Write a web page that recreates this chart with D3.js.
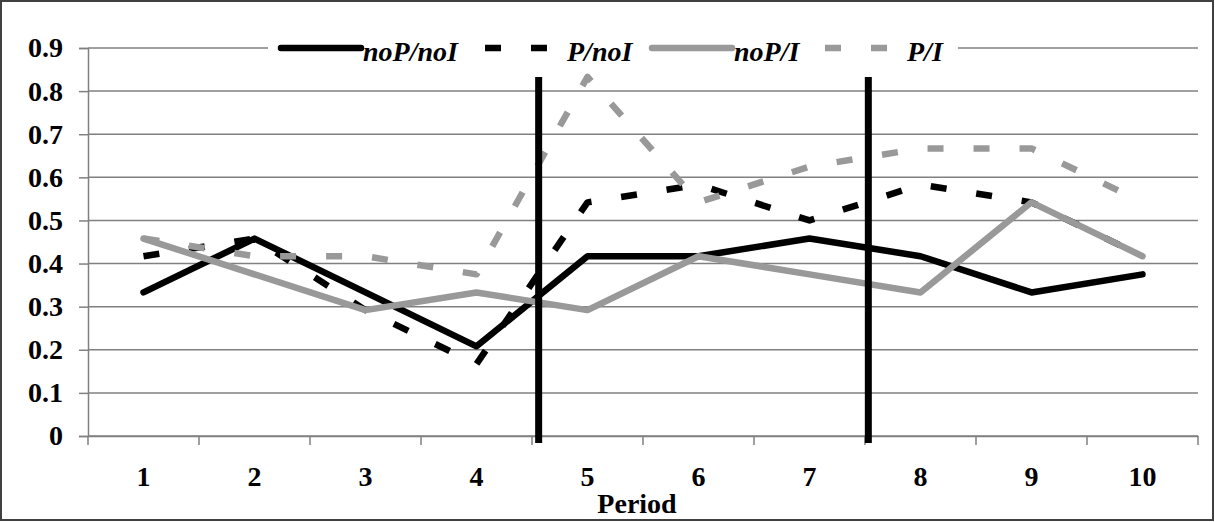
<!DOCTYPE html>
<html>
<head>
<meta charset="utf-8">
<script src="https://d3js.org/d3.v7.min.js"></script>
<style>
  body { margin: 0; background: #fff; }
  svg { display: block; }
</style>
</head>
<body>
<div id="chart"></div>
<script>
// data
var periods = [1, 2, 3, 4, 5, 6, 7, 8, 9, 10];
var noPnoI = [0.333, 0.458, 0.333, 0.208, 0.417, 0.417, 0.458, 0.417, 0.333, 0.375];
var PnoI   = [0.417, 0.458, 0.292, 0.167, 0.542, 0.583, 0.500, 0.583, 0.542, 0.417];
var noPI   = [0.458, 0.375, 0.292, 0.333, 0.292, 0.417, 0.375, 0.333, 0.542, 0.417];
var PI     = [0.458, 0.417, 0.417, 0.375, 0.833, 0.542, 0.625, 0.667, 0.667, 0.542];
var yTicks = [0, 0.1, 0.2, 0.3, 0.4, 0.5, 0.6, 0.7, 0.8, 0.9];
var breaks = [4.56, 7.53];  // treatment switch markers, in period units

var width = 1215, height = 522;
var plotLeft = 88, plotRight = 1198, plotTop = 48, plotBottom = 436;

var svg = d3.select("#chart").append("svg")
	.attr("width", width)
	.attr("height", height);

svg.append("rect")
	.attr("x", 1).attr("y", 1)
	.attr("width", width - 3).attr("height", height - 3)
	.attr("fill", "#fff")
	.attr("stroke", "#404040")
	.attr("stroke-width", 2);

var x = d3.scaleBand().domain(periods).range([plotLeft, plotRight]);
var xc = d3.scaleLinear()
	.domain([1, 10])
	.range([plotLeft + x.bandwidth() / 2, plotRight - x.bandwidth() / 2]);
var y = d3.scaleLinear().domain([0, 0.9]).range([plotBottom, plotTop]);

var font = "'Liberation Serif', 'Times New Roman', serif";

// grid
svg.append("g")
	.selectAll("line")
	.data(yTicks)
	.enter().append("line")
	.attr("x1", plotLeft).attr("x2", plotRight)
	.attr("y1", function(d) { return y(d); })
	.attr("y2", function(d) { return y(d); })
	.attr("stroke", "#808080")
	.attr("stroke-width", 1.5);

// y axis
var yAxis = svg.append("g")
	.attr("transform", "translate(" + plotLeft + ",0)")
	.call(d3.axisLeft(y).tickValues(yTicks).tickSize(9).tickPadding(16)
		.tickFormat(function(d) { return d === 0 ? "0" : d3.format(".1f")(d); }));
yAxis.select(".domain").attr("stroke", "#808080").attr("stroke-width", 1.5);
yAxis.selectAll(".tick line").attr("stroke", "#808080").attr("stroke-width", 1.5);
yAxis.selectAll("text")
	.style("font-family", font)
	.style("font-weight", "bold")
	.style("font-size", "28px")
	.attr("fill", "#000");

// x axis
var xAxis = svg.append("g")
	.attr("transform", "translate(0," + plotBottom + ")")
	.call(d3.axisBottom(x).tickSize(0).tickPadding(30));
xAxis.select(".domain").attr("stroke", "#808080").attr("stroke-width", 1.5);
xAxis.selectAll("text")
	.style("font-family", font)
	.style("font-weight", "bold")
	.style("font-size", "28px")
	.attr("fill", "#000");
xAxis.selectAll(".sep")
	.data(d3.range(periods.length + 1))
	.enter().append("line")
	.attr("x1", function(i) { return plotLeft + i * x.bandwidth(); })
	.attr("x2", function(i) { return plotLeft + i * x.bandwidth(); })
	.attr("y1", 0).attr("y2", 9)
	.attr("stroke", "#808080")
	.attr("stroke-width", 1.5);

svg.append("text")
	.attr("x", 637)
	.attr("y", 513)
	.style("font-family", font)
	.style("font-weight", "bold")
	.style("font-size", "28px")
	.style("text-anchor", "middle")
	.text("Period");

// series
var series = [
	{ name: "noP/noI", values: noPnoI, color: "#000", dash: null },
	{ name: "P/noI", values: PnoI, color: "#000", dash: "16,30" },
	{ name: "noP/I", values: noPI, color: "#999", dash: null },
	{ name: "P/I", values: PI, color: "#999", dash: "16,30" }
];

var line = d3.line()
	.x(function(d, i) { return xc(periods[i]); })
	.y(function(d) { return y(d); });

series.forEach(function(s) {
	svg.append("path")
		.attr("d", line(s.values))
		.attr("fill", "none")
		.attr("stroke", s.color)
		.attr("stroke-width", 6.5)
		.attr("stroke-linejoin", "round")
		.attr("stroke-linecap", s.dash ? "butt" : "round")
		.attr("stroke-dasharray", s.dash);
});

// vertical markers
svg.selectAll(".brk")
	.data(breaks)
	.enter().append("line")
	.attr("x1", function(d) { return xc(d); })
	.attr("x2", function(d) { return xc(d); })
	.attr("y1", y(0.833))
	.attr("y2", plotBottom + 7)
	.attr("stroke", "#000")
	.attr("stroke-width", 7);

// legend
var legend = svg.append("g");
legend.append("rect")
	.attr("x", 268).attr("y", 30)
	.attr("width", 690).attr("height", 36)
	.attr("fill", "#fff");

var legendX = [281, 485, 652, 825];
series.forEach(function(s, i) {
	var lx = legendX[i];
	legend.append("line")
		.attr("x1", lx).attr("x2", lx + 80)
		.attr("y1", plotTop).attr("y2", plotTop)
		.attr("stroke", s.color)
		.attr("stroke-width", 6.5)
		.attr("stroke-linecap", s.dash ? "butt" : "round")
		.attr("stroke-dasharray", s.dash);
	legend.append("text")
		.attr("x", lx + 82)
		.attr("y", plotTop + 13)
		.style("font-family", font)
		.style("font-weight", "bold")
		.style("font-style", "italic")
		.style("font-size", "28px")
		.text(s.name);
});
</script>
</body>
</html>
